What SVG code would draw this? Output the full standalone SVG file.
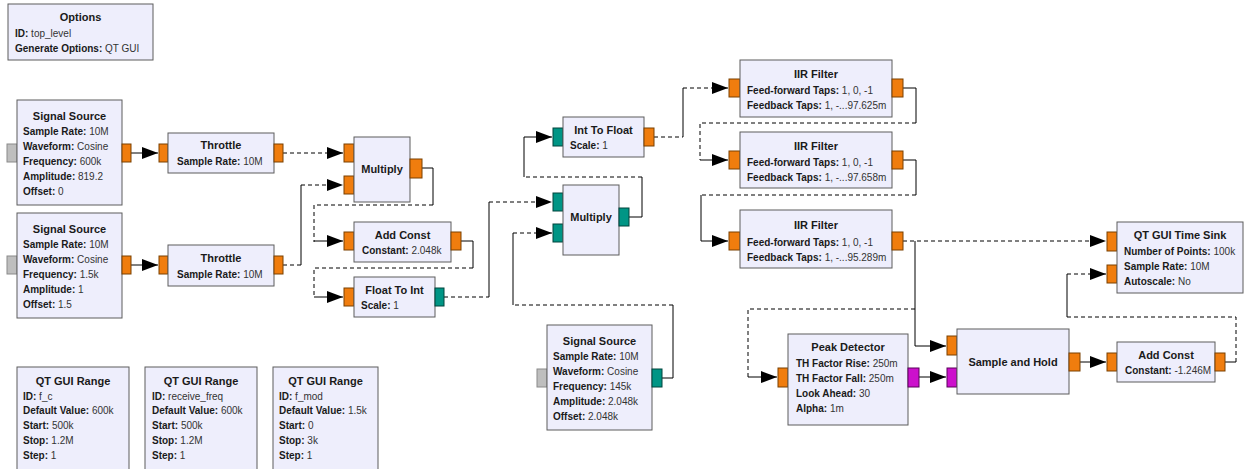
<svg xmlns="http://www.w3.org/2000/svg" width="1244" height="469" viewBox="0 0 1244 469">
<defs>
<style>
.blk{fill:#EEEEFC;stroke:#5c5c5c;stroke-width:1}
.t{font-family:"Liberation Sans",Arial,sans-serif;font-size:11px;font-weight:bold;fill:#1a1a1a;text-anchor:middle}
.l{font-family:"Liberation Sans",Arial,sans-serif;font-size:10px;font-weight:bold;fill:#1a1a1a}
.v{font-weight:normal;fill:#333}
.po{fill:#F07D0E;stroke:#7a4000;stroke-width:1}
.pt{fill:#009585;stroke:#00443c;stroke-width:1}
.pm{fill:#CC10CC;stroke:#5a005a;stroke-width:1}
.pg{fill:#BEBEBE;stroke:#8a8a8a;stroke-width:1}
.c{fill:none;stroke:#000;stroke-width:1}
.d{stroke-dasharray:4 3}
</style>
<marker id="ah" markerUnits="userSpaceOnUse" markerWidth="16" markerHeight="12" refX="16" refY="6" orient="auto">
<path d="M0,0 L16,6 L0,12 z" fill="#000"/>
</marker>
</defs>
<rect width="1244" height="469" fill="#fff"/>

<g id="connectors">
<path class="c" d="M131,153 H158" marker-end="url(#ah)"/>
<path class="c d" d="M283,153 H343" marker-end="url(#ah)"/>
<path class="c" d="M131,265 H158" marker-end="url(#ah)"/>
<g><path class="c d" d="M283,265 H301"/><path class="c" d="M301,265 V185"/><path class="c d" d="M301,185 H343" marker-end="url(#ah)"/></g>
<g><path class="c" d="M422,168 H433 V205"/><path class="c d" d="M433,205 H314 V242"/><path class="c" d="M314,241 H343" marker-end="url(#ah)"/></g>
<g><path class="c" d="M461,241 H473 V268"/><path class="c d" d="M473,268 H314 V297"/><path class="c" d="M314,297 H343" marker-end="url(#ah)"/></g>
<g><path class="c d" d="M444,297 H489"/><path class="c" d="M489,297 V202"/><path class="c d" d="M489,202 H552" marker-end="url(#ah)"/></g>
<g><path class="c" d="M662,378 H673 V305"/><path class="c d" d="M673,305 H513"/><path class="c" d="M513,305 V233"/><path class="c d" d="M513,233 H552" marker-end="url(#ah)"/></g>
<g><path class="c" d="M629,217 H642 V177"/><path class="c d" d="M642,177 H524"/><path class="c" d="M524,177 V137 H552" marker-end="url(#ah)"/></g>
<g><path class="c d" d="M654,137 H683"/><path class="c" d="M683,137 V88"/><path class="c d" d="M683,88 H728" marker-end="url(#ah)"/></g>
<g><path class="c" d="M903,88 H916 V123"/><path class="c d" d="M916,123 H700 V160"/><path class="c" d="M700,160 H728" marker-end="url(#ah)"/></g>
<g><path class="c" d="M903,160 H916 V195"/><path class="c d" d="M916,195 H701"/><path class="c" d="M701,195 V241 H728" marker-end="url(#ah)"/></g>
<path class="c d" d="M903,241 H1106" marker-end="url(#ah)"/>
<path class="c" d="M915,241 V346 H946" marker-end="url(#ah)"/>
<g><path class="c d" d="M915,309 H748 V377"/><path class="c" d="M748,377 H777" marker-end="url(#ah)"/></g>
<path class="c" d="M919,377 H946" marker-end="url(#ah)"/>
<path class="c" d="M1080,362 H1106" marker-end="url(#ah)"/>
<g><path class="c" d="M1225,362 H1236"/><path class="c d" d="M1236,362 V317 H1067"/><path class="c" d="M1067,317 V274"/><path class="c d" d="M1067,274 H1106" marker-end="url(#ah)"/></g>
</g>

<g id="options">
<rect class="blk" x="8" y="4" width="145" height="56"/>
<text class="t" x="80.5" y="21">Options</text>
<text class="l" x="15" y="37">ID: <tspan class="v">top_level</tspan></text>
<text class="l" x="15" y="52">Generate Options: <tspan class="v">QT GUI</tspan></text>
</g>

<g id="signal_source_1">
<rect class="pg" x="7" y="144" width="10" height="18"/>
<rect class="blk" x="17" y="100" width="105" height="105"/>
<rect class="po" x="122" y="144" width="9" height="18"/>
<text class="t" x="69.5" y="120">Signal Source</text>
<text class="l" x="23" y="135">Sample Rate: <tspan class="v">10M</tspan></text>
<text class="l" x="23" y="150">Waveform: <tspan class="v">Cosine</tspan></text>
<text class="l" x="23" y="165">Frequency: <tspan class="v">600k</tspan></text>
<text class="l" x="23" y="180">Amplitude: <tspan class="v">819.2</tspan></text>
<text class="l" x="23" y="195">Offset: <tspan class="v">0</tspan></text>
</g>

<g id="signal_source_2">
<rect class="pg" x="7" y="256" width="10" height="18"/>
<rect class="blk" x="17" y="213" width="105" height="105"/>
<rect class="po" x="122" y="256" width="9" height="18"/>
<text class="t" x="69.5" y="233">Signal Source</text>
<text class="l" x="23" y="248">Sample Rate: <tspan class="v">10M</tspan></text>
<text class="l" x="23" y="263">Waveform: <tspan class="v">Cosine</tspan></text>
<text class="l" x="23" y="278">Frequency: <tspan class="v">1.5k</tspan></text>
<text class="l" x="23" y="293">Amplitude: <tspan class="v">1</tspan></text>
<text class="l" x="23" y="308">Offset: <tspan class="v">1.5</tspan></text>
</g>

<g id="throttle_1">
<rect class="po" x="159" y="144" width="9" height="18"/>
<rect class="blk" x="168" y="133" width="106" height="40"/>
<rect class="po" x="274" y="144" width="9" height="18"/>
<text class="t" x="221" y="149">Throttle</text>
<text class="l" x="177" y="165">Sample Rate: <tspan class="v">10M</tspan></text>
</g>

<g id="throttle_2">
<rect class="po" x="159" y="256" width="9" height="18"/>
<rect class="blk" x="168" y="245" width="106" height="41"/>
<rect class="po" x="274" y="256" width="9" height="18"/>
<text class="t" x="221" y="262">Throttle</text>
<text class="l" x="177" y="278">Sample Rate: <tspan class="v">10M</tspan></text>
</g>

<g id="multiply_1">
<rect class="po" x="344" y="144" width="10" height="18"/>
<rect class="po" x="344" y="176" width="10" height="18"/>
<rect class="blk" x="354" y="137" width="56" height="65"/>
<rect class="po" x="410" y="159" width="12" height="19"/>
<text class="t" x="382" y="173">Multiply</text>
</g>

<g id="add_const_1">
<rect class="po" x="344" y="232" width="10" height="18"/>
<rect class="blk" x="354" y="222" width="97" height="40"/>
<rect class="po" x="451" y="232" width="10" height="18"/>
<text class="t" x="402.5" y="239">Add Const</text>
<text class="l" x="362" y="254">Constant: <tspan class="v">2.048k</tspan></text>
</g>

<g id="float_to_int">
<rect class="po" x="344" y="288" width="10" height="18"/>
<rect class="blk" x="354" y="277" width="81" height="40"/>
<rect class="pt" x="435" y="288" width="9" height="18"/>
<text class="t" x="394.5" y="294">Float To Int</text>
<text class="l" x="361" y="309">Scale: <tspan class="v">1</tspan></text>
</g>

<g id="int_to_float">
<rect class="pt" x="553" y="128" width="10" height="18"/>
<rect class="blk" x="563" y="117" width="81" height="40"/>
<rect class="po" x="644" y="128" width="10" height="18"/>
<text class="t" x="603.5" y="134">Int To Float</text>
<text class="l" x="570" y="149">Scale: <tspan class="v">1</tspan></text>
</g>

<g id="multiply_2">
<rect class="pt" x="553" y="193" width="10" height="18"/>
<rect class="pt" x="553" y="224" width="10" height="18"/>
<rect class="blk" x="563" y="185" width="56" height="70"/>
<rect class="pt" x="619" y="208" width="10" height="18"/>
<text class="t" x="591" y="221">Multiply</text>
</g>

<g id="signal_source_3">
<rect class="pg" x="537" y="369" width="10" height="18"/>
<rect class="blk" x="547" y="325" width="105" height="105"/>
<rect class="pt" x="652" y="369" width="10" height="18"/>
<text class="t" x="599.5" y="345">Signal Source</text>
<text class="l" x="553" y="360">Sample Rate: <tspan class="v">10M</tspan></text>
<text class="l" x="553" y="375">Waveform: <tspan class="v">Cosine</tspan></text>
<text class="l" x="553" y="390">Frequency: <tspan class="v">145k</tspan></text>
<text class="l" x="553" y="405">Amplitude: <tspan class="v">2.048k</tspan></text>
<text class="l" x="553" y="420">Offset: <tspan class="v">2.048k</tspan></text>
</g>

<g id="iir_filter_1">
<rect class="po" x="729" y="79" width="11" height="18"/>
<rect class="blk" x="740" y="60" width="152" height="57"/>
<rect class="po" x="892" y="79" width="11" height="18"/>
<text class="t" x="816" y="78">IIR Filter</text>
<text class="l" x="747" y="93.5">Feed-forward Taps: <tspan class="v">1, 0, -1</tspan></text>
<text class="l" x="747" y="109">Feedback Taps: <tspan class="v">1, -...97.625m</tspan></text>
</g>

<g id="iir_filter_2">
<rect class="po" x="729" y="151" width="11" height="18"/>
<rect class="blk" x="740" y="132" width="152" height="56"/>
<rect class="po" x="892" y="151" width="11" height="18"/>
<text class="t" x="816" y="150">IIR Filter</text>
<text class="l" x="747" y="165.5">Feed-forward Taps: <tspan class="v">1, 0, -1</tspan></text>
<text class="l" x="747" y="181">Feedback Taps: <tspan class="v">1, -...97.658m</tspan></text>
</g>

<g id="iir_filter_3">
<rect class="po" x="729" y="232" width="11" height="18"/>
<rect class="blk" x="740" y="210" width="152" height="58"/>
<rect class="po" x="892" y="232" width="11" height="18"/>
<text class="t" x="816" y="229">IIR Filter</text>
<text class="l" x="747" y="245.5">Feed-forward Taps: <tspan class="v">1, 0, -1</tspan></text>
<text class="l" x="747" y="261">Feedback Taps: <tspan class="v">1, -...95.289m</tspan></text>
</g>

<g id="qt_gui_time_sink">
<rect class="po" x="1107" y="232" width="10" height="19"/>
<rect class="po" x="1107" y="265" width="10" height="18"/>
<rect class="blk" x="1117" y="222" width="126" height="71"/>
<text class="t" x="1180" y="239">QT GUI Time Sink</text>
<text class="l" x="1124" y="255">Number of Points: <tspan class="v">100k</tspan></text>
<text class="l" x="1124" y="270">Sample Rate: <tspan class="v">10M</tspan></text>
<text class="l" x="1124" y="285">Autoscale: <tspan class="v">No</tspan></text>
</g>

<g id="peak_detector">
<rect class="po" x="778" y="368" width="10" height="19"/>
<rect class="blk" x="788" y="334" width="120" height="91"/>
<rect class="pm" x="908" y="368" width="11" height="19"/>
<text class="t" x="848" y="351">Peak Detector</text>
<text class="l" x="796" y="367">TH Factor Rise: <tspan class="v">250m</tspan></text>
<text class="l" x="796" y="382">TH Factor Fall: <tspan class="v">250m</tspan></text>
<text class="l" x="796" y="397">Look Ahead: <tspan class="v">30</tspan></text>
<text class="l" x="796" y="411.5">Alpha: <tspan class="v">1m</tspan></text>
</g>

<g id="sample_and_hold">
<rect class="po" x="947" y="336" width="10" height="19"/>
<rect class="pm" x="947" y="368" width="10" height="19"/>
<rect class="blk" x="957" y="329" width="112" height="65"/>
<rect class="po" x="1069" y="353" width="11" height="18"/>
<text class="t" x="1013" y="366">Sample and Hold</text>
</g>

<g id="add_const_2">
<rect class="po" x="1107" y="353" width="10" height="18"/>
<rect class="blk" x="1117" y="342" width="98" height="40"/>
<rect class="po" x="1215" y="353" width="10" height="18"/>
<text class="t" x="1166" y="359">Add Const</text>
<text class="l" x="1125" y="374">Constant: <tspan class="v">-1.246M</tspan></text>
</g>

<g id="qt_gui_range_1">
<rect class="blk" x="17" y="367" width="112" height="110"/>
<text class="t" x="73" y="385">QT GUI Range</text>
<text class="l" x="23" y="399.5">ID: <tspan class="v">f_c</tspan></text>
<text class="l" x="23" y="414">Default Value: <tspan class="v">600k</tspan></text>
<text class="l" x="23" y="429">Start: <tspan class="v">500k</tspan></text>
<text class="l" x="23" y="444">Stop: <tspan class="v">1.2M</tspan></text>
<text class="l" x="23" y="459">Step: <tspan class="v">1</tspan></text>
</g>

<g id="qt_gui_range_2">
<rect class="blk" x="145" y="367" width="112" height="110"/>
<text class="t" x="201" y="385">QT GUI Range</text>
<text class="l" x="152" y="399.5">ID: <tspan class="v">receive_freq</tspan></text>
<text class="l" x="152" y="414">Default Value: <tspan class="v">600k</tspan></text>
<text class="l" x="152" y="429">Start: <tspan class="v">500k</tspan></text>
<text class="l" x="152" y="444">Stop: <tspan class="v">1.2M</tspan></text>
<text class="l" x="152" y="459">Step: <tspan class="v">1</tspan></text>
</g>

<g id="qt_gui_range_3">
<rect class="blk" x="273" y="367" width="105" height="110"/>
<text class="t" x="325.5" y="385">QT GUI Range</text>
<text class="l" x="279" y="399.5">ID: <tspan class="v">f_mod</tspan></text>
<text class="l" x="279" y="414">Default Value: <tspan class="v">1.5k</tspan></text>
<text class="l" x="279" y="429">Start: <tspan class="v">0</tspan></text>
<text class="l" x="279" y="444">Stop: <tspan class="v">3k</tspan></text>
<text class="l" x="279" y="459">Step: <tspan class="v">1</tspan></text>
</g>
</svg>
